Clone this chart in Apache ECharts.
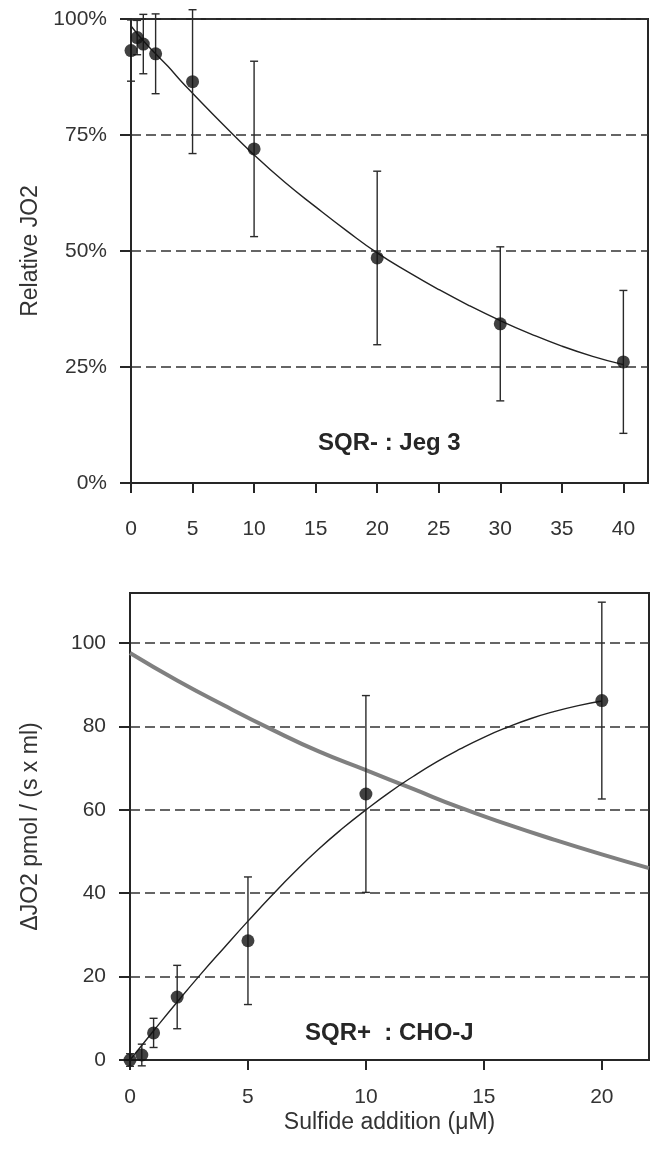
<!DOCTYPE html>
<html>
<head>
<meta charset="utf-8">
<script src="https://cdn.jsdelivr.net/npm/echarts@6/dist/echarts.min.js"></script>
<style>
html,body{margin:0;padding:0;background:#fff;}
#chart{width:656px;height:1151px;}
</style>
</head>
<body>
<div id="chart"></div>
<script>
// ---- Top panel: SQR- : Jeg 3 ----
const topX = [0, 0.5, 1, 2, 5, 10, 20, 30, 40];
const topY = [93.2, 96, 94.6, 92.5, 86.5, 72, 48.5, 34.3, 26.1];
const topErr = [6.6, 3.7, 6.4, 8.6, 15.5, 18.9, 18.7, 16.6, 15.4];
const topFitX = [0, 1, 2, 3, 4, 5, 7.5, 10, 12.5, 15, 17.5, 20, 22.5, 25, 27.5, 30, 32.5, 35, 37.5, 40];
const topFitY = [98.5, 95.3, 92.5, 89.8, 86.8, 84, 77.2, 70.7, 64.8, 59.5, 54.4, 49.6, 45.5, 41.7, 38.2, 35, 32.1, 29.5, 27.3, 25.5];
const topXTicks = [0, 5, 10, 15, 20, 25, 30, 35, 40];
const topYTicks = [0, 25, 50, 75, 100];

// ---- Bottom panel: SQR+ : CHO-J ----
const botX = [0, 0.5, 1, 2, 5, 10, 20];
const botY = [0, 1.2, 6.5, 15.1, 28.6, 63.8, 86.2];
const botErr = [1.5, 2.6, 3.5, 7.6, 15.3, 23.6, 23.6];
const botFitX = [0, 1, 2, 3, 4, 5, 6, 7, 8, 9, 10, 11, 12, 13, 14, 15, 16, 17, 18, 19, 20];
const botFitY = [0, 7, 13.9, 20.6, 27, 33.3, 39.4, 45.2, 50.6, 55.5, 60, 64.2, 68, 71.5, 74.6, 77.4, 79.8, 81.9, 83.6, 85, 86.1];
const grayX = [0, 2, 4, 6, 8, 10, 12, 14, 16, 18, 20, 22];
const grayY = [97.6, 91, 85, 79.3, 74, 69.5, 65, 60.5, 56.5, 52.8, 49.3, 46];
const botXTicks = [0, 5, 10, 15, 20];
const botYTicks = [0, 20, 40, 60, 80, 100];

const FONT = '"Liberation Sans", Arial, Helvetica, sans-serif';
const AX = '#262626';
const TXT = '#333333';

function pairs(xs, ys) { return xs.map((x, i) => [x, ys[i]]); }
function errData(xs, ys, es) { return xs.map((x, i) => [x, ys[i] - es[i], ys[i] + es[i]]); }

function errRender(params, api) {
  const x = api.value(0), lo = api.value(1), hi = api.value(2);
  const a = api.coord([x, hi]);
  const b = api.coord([x, lo]);
  const w = 4;
  const st = { stroke: '#2a2a2a', lineWidth: 1.4 };
  return {
    type: 'group',
    children: [
      { type: 'line', shape: { x1: a[0], y1: a[1], x2: b[0], y2: b[1] }, style: st },
      { type: 'line', shape: { x1: a[0] - w, y1: a[1], x2: a[0] + w, y2: a[1] }, style: st },
      { type: 'line', shape: { x1: b[0] - w, y1: b[1], x2: b[0] + w, y2: b[1] }, style: st }
    ]
  };
}

function xAxisCfg(idx, max, ticks, margin, name) {
  return {
    gridIndex: idx, type: 'value', min: 0, max: max, interval: 5,
    name: name || '', nameLocation: 'middle', nameGap: 51,
    nameTextStyle: { fontFamily: FONT, fontSize: 23, color: TXT },
    axisLine: { show: true, onZero: false, lineStyle: { color: AX, width: 2 } },
    axisTick: { show: true, length: 10, customValues: ticks, lineStyle: { color: AX, width: 2 } },
    axisLabel: { customValues: ticks, fontFamily: FONT, fontSize: 21, color: TXT, margin: margin },
    splitLine: { show: false }
  };
}
function yAxisCfg(idx, max, interval, ticks, fmt, name) {
  return {
    gridIndex: idx, type: 'value', min: 0, max: max, interval: interval,
    name: name, nameLocation: 'middle', nameGap: 88,
    nameTextStyle: { fontFamily: FONT, fontSize: 23, color: TXT },
    axisLine: { show: true, onZero: false, lineStyle: { color: AX, width: 2 } },
    axisTick: { show: true, length: 11, customValues: ticks, lineStyle: { color: AX, width: 2 } },
    axisLabel: { customValues: ticks, formatter: fmt, fontFamily: FONT, fontSize: 21, color: TXT, margin: 24 },
    splitLine: { show: true, lineStyle: { color: '#333333', width: 1.5, type: [10, 5] } }
  };
}

const chart = echarts.init(document.getElementById('chart'), null, { renderer: 'canvas' });
chart.setOption({
  animation: false,
  backgroundColor: '#ffffff',
  grid: [
    { left: 131, right: 8, top: 19, height: 464, show: true, borderColor: AX, borderWidth: 2, outerBoundsMode: 'none', containLabel: false },
    { left: 130, right: 7, top: 593, height: 467, show: true, borderColor: AX, borderWidth: 2, outerBoundsMode: 'none', containLabel: false }
  ],
  xAxis: [
    xAxisCfg(0, 42, topXTicks, 36),
    xAxisCfg(1, 22, botXTicks, 27, 'Sulfide addition (\u03bcM)')
  ],
  yAxis: [
    yAxisCfg(0, 100, 25, topYTicks, '{value}%', 'Relative JO2'),
    yAxisCfg(1, 112, 20, botYTicks, '{value}', '\u0394JO2 pmol / (s x ml)')
  ],
  series: [
    { type: 'line', xAxisIndex: 0, yAxisIndex: 0, data: pairs(topFitX, topFitY), smooth: true, showSymbol: false,
      lineStyle: { color: '#222', width: 1.4 }, z: 2 },
    { type: 'custom', xAxisIndex: 0, yAxisIndex: 0, data: errData(topX, topY, topErr), renderItem: errRender, z: 3 },
    { type: 'scatter', xAxisIndex: 0, yAxisIndex: 0, data: pairs(topX, topY), symbolSize: 13,
      itemStyle: { color: '#111111' }, z: 4 },

    { type: 'line', xAxisIndex: 1, yAxisIndex: 1, data: pairs(grayX, grayY), smooth: true, showSymbol: false,
      lineStyle: { color: '#808080', width: 4 }, z: 2 },
    { type: 'line', xAxisIndex: 1, yAxisIndex: 1, data: pairs(botFitX, botFitY), smooth: true, showSymbol: false,
      lineStyle: { color: '#222', width: 1.4 }, z: 3 },
    { type: 'custom', xAxisIndex: 1, yAxisIndex: 1, data: errData(botX, botY, botErr), renderItem: errRender, z: 3 },
    { type: 'scatter', xAxisIndex: 1, yAxisIndex: 1, data: pairs(botX, botY), symbolSize: 13,
      itemStyle: { color: '#111111' }, z: 4 }
  ],
  graphic: [
    { type: 'text', left: 318, top: 431, style: { text: 'SQR- : Jeg 3', font: 'bold 24px ' + FONT, fill: '#262626' } },
    { type: 'text', left: 305, top: 1021, style: { text: 'SQR+  : CHO-J', font: 'bold 24px ' + FONT, fill: '#262626' } }
  ]
});
</script>
</body>
</html>
